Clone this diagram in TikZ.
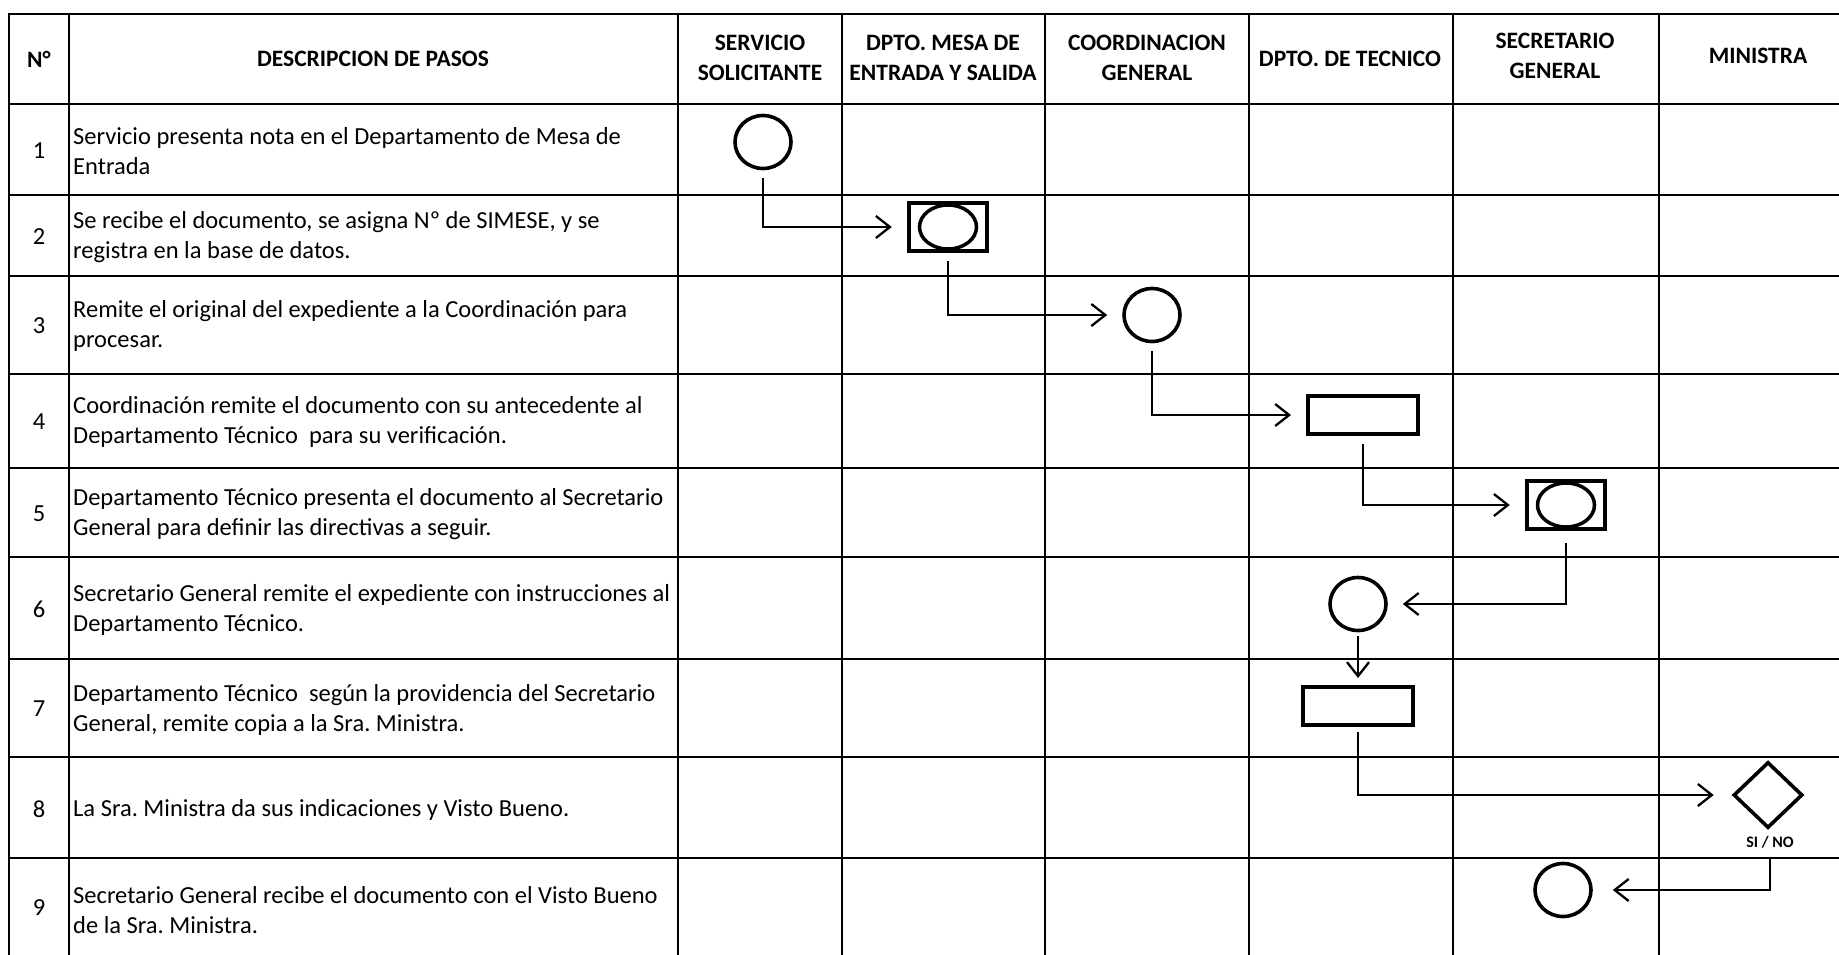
\documentclass[tikz,border=0pt]{standalone}
\usepackage{fontspec}
\setmainfont{Carlito}
\usetikzlibrary{arrows.meta,shapes.geometric}
\frenchspacing
\begin{document}
\begin{tikzpicture}[x=1pt,y=-1pt,
  grid/.style={line width=2.9pt, line cap=rect},
  desc/.style={anchor=west, align=left, inner sep=0pt, font=\fontsize{24.5}{30.5}\selectfont},
  num/.style={inner sep=0pt, font=\fontsize{24.5}{30}\selectfont},
  head/.style={align=center, inner sep=0pt, font=\bfseries\fontsize{23.5}{30}\selectfont},
  circ/.style={draw, line width=3.6pt, ellipse, minimum width=56pt, minimum height=53pt, inner sep=0pt},
  proc/.style={draw, line width=4pt, rectangle, minimum width=110pt, minimum height=38pt, inner sep=0pt},
  boxc/.style={draw, line width=4.5pt, rectangle, minimum width=78pt, minimum height=48pt, inner sep=0pt},
  boxe/.style={draw, line width=3.5pt, ellipse, minimum width=57pt, minimum height=44pt, inner sep=0pt},
  dec/.style={draw, line width=3.6pt, diamond, minimum width=69pt, minimum height=66pt, inner sep=0pt},
  flow/.style={line width=2.3pt, -{Straight Barb[length=14pt,width=22pt]}, shorten <=8pt, shorten >=15pt},
  lbl/.style={inner sep=0pt, font=\bfseries\fontsize{16}{18}\selectfont},
]
\useasboundingbox[fill=white] (0,0) rectangle (1839,954);

% table grid
\foreach \y in {14,104,195,276,374,468,557,659,757,858}
  \draw[grid] (9,\y) -- (1845,\y);
\foreach \x in {9,69,678,842,1045,1249,1453,1659}
  \draw[grid] (\x,14) -- (\x,960);

% header
\node[head] (hn) at (39,59) {N°};
\node[head] (hd) at (373,59) {DESCRIPCION DE PASOS};
\node[head] (hs) at (760,58) {SERVICIO\\SOLICITANTE};
\node[head] (hm) at (943,58) {DPTO. MESA DE\\ENTRADA Y SALIDA};
\node[head] (hc) at (1147,58) {COORDINACION\\GENERAL};
\node[head] (ht) at (1350,59) {DPTO. DE TECNICO};
\node[head] (hg) at (1555,56) {SECRETARIO\\GENERAL};
\node[head] (hmi) at (1758,56) {MINISTRA};

% row numbers
\node[num] (n1) at (39,151) {1};
\node[num] (n2) at (39,237) {2};
\node[num] (n3) at (39,326) {3};
\node[num] (n4) at (39,422) {4};
\node[num] (n5) at (39,514) {5};
\node[num] (n6) at (39,609) {6};
\node[num] (n7) at (39,709) {7};
\node[num] (n8) at (39,809) {8};
\node[num] (n9) at (39,908) {9};

% descriptions
\node[desc] (d1) at (73,151) {Servicio presenta nota en el Departamento de Mesa de\\Entrada};
\node[desc] (d2) at (73,237) {Se recibe el documento, se asigna Nº de SIMESE, y se\\registra en la base de datos.};
\node[desc] (d3) at (73,326) {Remite el original del expediente a la Coordinación para\\procesar.};
\node[desc] (d4) at (73,422) {Coordinación remite el documento con su antecedente al\\Departamento Técnico\ \ para su verificación.};
\node[desc] (d5) at (73,514) {Departamento Técnico presenta el documento al Secretario\\General para definir las directivas a seguir.};
\node[desc] (d6) at (73,610) {Secretario General remite el expediente con instrucciones al\\Departamento Técnico.};
\node[desc] (d7) at (73,710) {Departamento Técnico\ \ según la providencia del Secretario\\General, remite copia a la Sra. Ministra.};
\node[desc] (d8) at (73,810) {La Sra. Ministra da sus indicaciones y Visto Bueno.};
\node[desc] (d9) at (73,910) {Secretario General recibe el documento con el Visto Bueno\\de la Sra. Ministra.};

% flow shapes
\node[circ] (c1) at (763,142) {};
\node[boxc] (b2) at (948,227) {};
\node[boxe] (b2e) at (948,227) {};
\node[circ] (c3) at (1152,315) {};
\node[proc] (r4) at (1363,415) {};
\node[boxc] (b5) at (1566,505) {};
\node[boxe] (b5e) at (1566,505) {};
\node[circ] (c6) at (1358,604) {};
\node[proc] (r7) at (1358,706) {};
\node[dec] (d8s) at (1768,795) {};
\node[lbl] (sino) at (1770,842) {SI / NO};
\node[circ] (c9) at (1563,890) {};

% connectors
\draw[flow] (c1.south) |- (b2);
\draw[flow] (b2.south) |- (c3);
\draw[flow] (c3.south) |- (r4);
\draw[flow] (r4.south) |- (b5);
\draw[flow, shorten <=12pt] (b5.south) |- (c6);
\draw[flow, shorten <=4pt, shorten >=7pt] (c6.south) -- (r7.north);
\draw[flow, shorten <=5pt, shorten >=18pt] (r7.south) |- (d8s);
\draw[flow, shorten <=11pt, shorten >=20pt] (sino.south) |- (c9);
\end{tikzpicture}
\end{document}
